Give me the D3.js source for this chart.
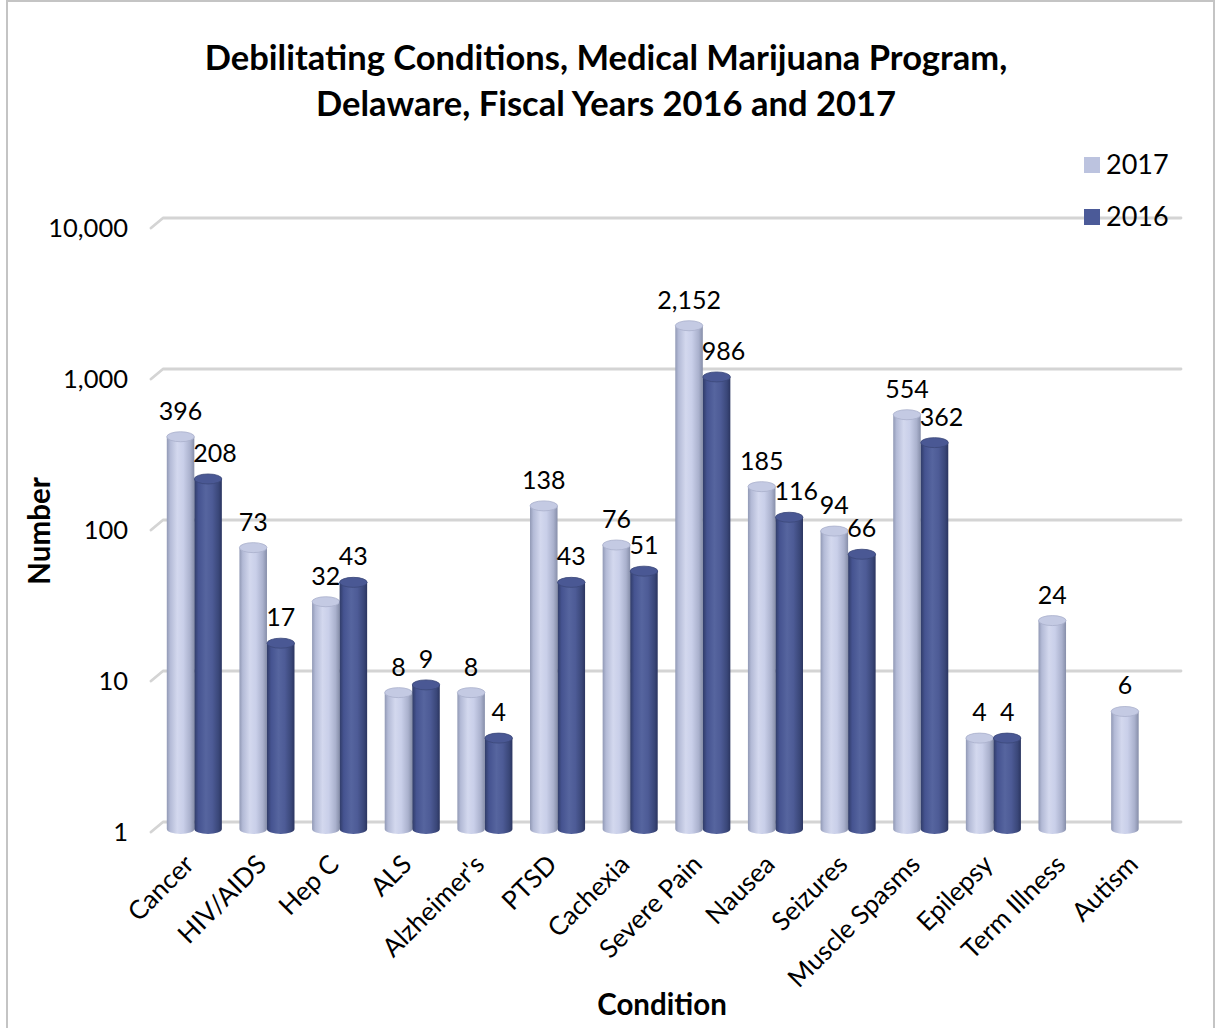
<!DOCTYPE html>
<html>
<head>
<meta charset="utf-8">
<script src="https://cdn.jsdelivr.net/npm/d3@7"></script>
<style>
  html, body { margin: 0; padding: 0; background: #fff; }
  svg text { font-family: Lato, "Open Sans", sans-serif; fill: #000; }
</style>
</head>
<body>
<svg id="chart" width="1217" height="1028"></svg>
<script>
// Debilitating conditions reported by the Delaware medical marijuana program
const categories = ["Cancer", "HIV/AIDS", "Hep C", "ALS", "Alzheimer's", "PTSD", "Cachexia",
  "Severe Pain", "Nausea", "Seizures", "Muscle Spasms", "Epilepsy", "Term Illness", "Autism"];
const values2017 = [396, 73, 32, 8, 8, 138, 76, 2152, 185, 94, 554, 4, 24, 6];
const values2016 = [208, 17, 43, 9, 4, 43, 51, 986, 116, 66, 362, 4, null, null];
const seriesNames = ["2017", "2016"];
const yTicks = [1, 10, 100, 1000, 10000];
const titleLines = ["Debilitating Conditions, Medical Marijuana Program,",
  "Delaware, Fiscal Years 2016 and 2017"];

const svg = d3.select("#chart");
const W = 1217, H = 1028;

// outer chart frame
svg.append("rect").attr("x", 7).attr("y", 1).attr("width", 1207).attr("height", H + 20)
  .attr("fill", "none").attr("stroke", "#c4c4c4").attr("stroke-width", 2);

// back wall geometry and the front-face offset used for the 3D look
const backLeft = 163, backRight = 1181;
const depthX = -12, depthY = 10;     // front edge relative to the back wall
const barShiftY = 7;                 // bars sit a little in front of the back wall

const y = d3.scaleLog().domain([1, 10000]).range([822, 218]);
const x = d3.scaleBand().domain(categories).range([158, 1175]).paddingInner(0.242).paddingOuter(0.121);
const xs = d3.scaleBand().domain(seriesNames).range([0, x.bandwidth()]);

const defs = svg.append("defs");
function cylGrad(id, stops) {
  const g = defs.append("linearGradient").attr("id", id)
    .attr("x1", "0%").attr("x2", "100%").attr("y1", "0%").attr("y2", "0%");
  stops.forEach(s => g.append("stop").attr("offset", s[0]).attr("stop-color", s[1]));
}
cylGrad("g2017", [["0%", "#9199b5"], ["12%", "#b3bad6"], ["38%", "#d3d8ee"], ["60%", "#c9cfe9"], ["85%", "#aab1cd"], ["100%", "#868ea9"]]);
cylGrad("g2016", [["0%", "#303c68"], ["15%", "#455390"], ["42%", "#56659f"], ["65%", "#4d5b96"], ["88%", "#3a4779"], ["100%", "#2b3560"]]);
const capFill = { "2017": "#c4cae3", "2016": "#4a5894" };
const capStroke = { "2017": "#a9b0cb", "2016": "#3b4879" };
const legendFill = { "2017": "#bcc3df", "2016": "#4b5a98" };

// title
const title = svg.append("text").attr("text-anchor", "middle")
  .attr("font-weight", "bold").attr("font-size", 34.5);
titleLines.forEach((t, i) => title.append("tspan").attr("x", 606).attr("y", 70 + i * 46).text(t));

// gridlines with a short slanted floor edge at the left
const grid = svg.append("g");
yTicks.forEach(t => {
  const yy = y(t);
  grid.append("path")
    .attr("d", `M${backLeft + depthX},${yy + depthY}L${backLeft},${yy}L${backRight},${yy}`)
    .attr("fill", "none").attr("stroke", "#d4d4d4").attr("stroke-width", 2.8)
    .attr("stroke-linejoin", "round").attr("stroke-linecap", "round");
});

// y tick labels placed at the front edge
const fmt = d3.format(",");
svg.append("g").selectAll("text").data(yTicks).join("text")
  .attr("x", 128).attr("y", d => y(d) + depthY).attr("dy", "0.35em")
  .attr("text-anchor", "end").attr("font-size", 25.5).text(d => fmt(d));

// bars
const rows = [];
categories.forEach((c, i) => {
  [["2017", values2017[i]], ["2016", values2016[i]]].forEach(([s, v]) => {
    if (v == null) return;
    rows.push({ cat: c, series: s, value: v, idx: i });
  });
});

const ry = 5;
const barG = svg.append("g");
rows.forEach(d => {
  const x0 = x(d.cat) + xs(d.series);
  const w = xs.bandwidth();
  const rx = w / 2;
  const top = y(d.value) + barShiftY;
  const bottom = y(1) + barShiftY;
  d.cx = x0 + rx; d.top = top; d.x0 = x0; d.x1 = x0 + w;
  barG.append("path")
    .attr("d", `M${x0},${top}L${x0},${bottom}A${rx},${ry} 0 0 0 ${x0 + w},${bottom}L${x0 + w},${top}Z`)
    .attr("fill", `url(#g${d.series})`);
  barG.append("ellipse").attr("cx", x0 + rx).attr("cy", top).attr("rx", rx).attr("ry", ry)
    .attr("fill", capFill[d.series]).attr("stroke", capStroke[d.series]).attr("stroke-width", 0.8);
});

// value labels above each bar; a 2016 label is nudged right if it would sit on a taller 2017 bar
const labG = svg.append("g");
rows.forEach(d => {
  const t = labG.append("text").attr("text-anchor", "middle").attr("font-size", 25)
    .attr("x", d.cx).attr("y", d.top - 17).text(fmt(d.value));
  if (d.series === "2016") {
    const partner = rows.find(r => r.idx === d.idx && r.series === "2017");
    const w = t.node().getComputedTextLength();
    const left = d.cx - w / 2;
    if (partner && partner.top < d.top - 17 && left < partner.x1 - 1) {
      t.attr("x", partner.x1 - 1 + w / 2);
    }
  }
});

// category labels, rotated
svg.append("g").selectAll("text").data(categories).join("text")
  .attr("text-anchor", "end").attr("font-size", 26)
  .attr("transform", d => `translate(${x(d) + x.bandwidth() / 2 + 1},${866}) rotate(-45)`)
  .text(d => d);

// axis titles
svg.append("text").attr("text-anchor", "middle").attr("font-weight", "bold").attr("font-size", 29.5)
  .attr("transform", "translate(50,531) rotate(-90)").text("Number");
svg.append("text").attr("text-anchor", "middle").attr("font-weight", "bold").attr("font-size", 29.5)
  .attr("x", 662).attr("y", 1015).text("Condition");

// legend
const leg = svg.append("g");
seriesNames.forEach((s, i) => {
  const ly = 165 + i * 52;
  leg.append("rect").attr("x", 1084).attr("y", ly - 8).attr("width", 16).attr("height", 16)
    .attr("fill", legendFill[s]);
  leg.append("text").attr("x", 1106).attr("y", ly).attr("dy", "0.35em").attr("font-size", 27).text(s);
});
</script>
</body>
</html>
